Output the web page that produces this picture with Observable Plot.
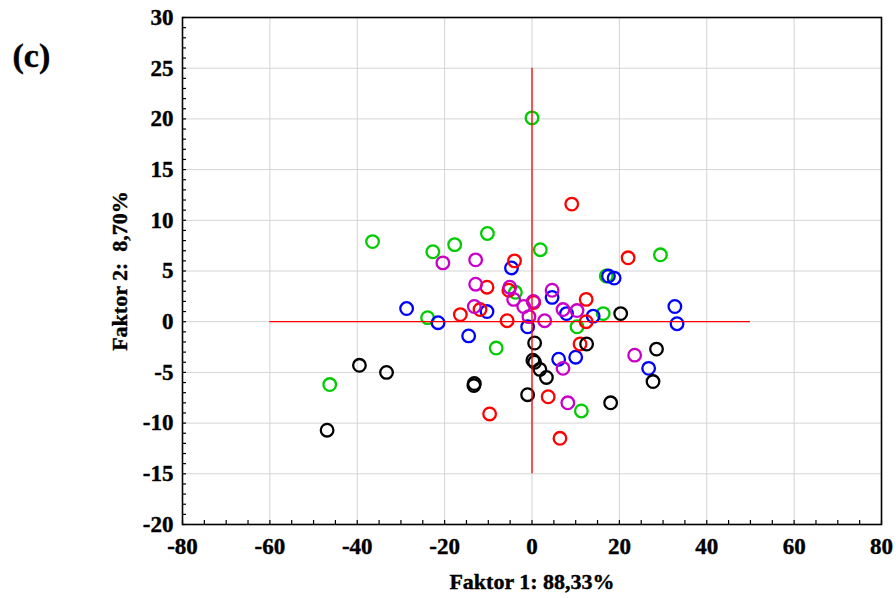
<!DOCTYPE html>
<html>
<head>
<meta charset="utf-8">
<script src="https://cdn.jsdelivr.net/npm/d3@7"></script>
<script src="https://cdn.jsdelivr.net/npm/@observablehq/plot@0.6"></script>
<style>
  html, body { margin: 0; padding: 0; background: #fff; }
  #chart { width: 896px; height: 598px; }
</style>
</head>
<body>
<div id="chart"></div>
<script>
// ---- data ----
const greenPts = [
  [0, 20.1], [-36.5, 7.9], [-22.7, 6.9], [-17.7, 7.6], [-10.2, 8.7], [1.9, 7.1],
  [29.4, 6.6], [-46.3, -6.2], [-23.9, 0.4], [-3.8, 2.9], [16.3, 0.8], [10.3, -0.5],
  [-8.2, -2.6], [11.3, -8.8], [17.0, 4.5]
];
const bluePts = [
  [-28.7, 1.3], [-21.5, -0.1], [-4.7, 5.3], [-10.3, 1.0], [-14.5, -1.4], [4.6, 2.4],
  [-1.0, -0.5], [7.9, 0.8], [14.0, 0.55], [17.5, 4.5], [18.8, 4.3], [6.1, -3.7],
  [10.0, -3.5], [32.7, 1.5], [33.2, -0.2], [26.7, -4.6]
];
const redPts = [
  [9.1, 11.6], [22.0, 6.3], [-4.0, 6.0], [-10.3, 3.4], [-5.3, 3.1], [-11.9, 1.2],
  [-16.4, 0.7], [-5.7, 0.1], [0.4, 1.9], [12.4, 2.2], [12.4, 0.0], [11.0, -2.2],
  [3.7, -7.4], [-9.7, -9.1], [6.4, -11.5]
];
const magentaPts = [
  [-20.4, 5.8], [-12.9, 6.1], [-12.9, 3.7], [-13.2, 1.5], [-5.1, 3.4], [-4.2, 2.2],
  [-1.9, 1.5], [0.3, 2.0], [-0.7, 0.5], [2.9, 0.1], [4.6, 3.1], [7.1, 1.2],
  [10.3, 1.1], [7.1, -4.6], [23.5, -3.3], [8.2, -8.0]
];
const blackPts = [
  [-46.9, -10.7], [-39.5, -4.3], [-33.3, -5.0], [-13.3, -6.3], [-13.2, -6.1], [-1.0, -7.2],
  [0.6, -2.1], [0.2, -3.8], [0.6, -4.0], [1.8, -4.7], [3.3, -5.5], [12.5, -2.2],
  [20.3, 0.8], [28.5, -2.7], [27.7, -5.9], [18.0, -8.0]
];
const groupSeries = [greenPts, bluePts, redPts, magentaPts, blackPts];
const groupColors = ["#00cc00", "#0000ff", "#ff0000", "#c800c8", "#000000"];

const xTicks = [-80, -60, -40, -20, 0, 20, 40, 60, 80];
const yTicks = [-20, -15, -10, -5, 0, 5, 10, 15, 20, 25, 30];
const xMinorTicks = d3.range(-80, 81, 5);
const yMinorTicks = d3.range(-20, 31, 1);
const hLine = {y: 0, x1: -60, x2: 50};
const vLine = {x: 0, y1: -15, y2: 25};
const xLabel = "Faktor 1: 88,33%";
const yLabel = "Faktor 2:  8,70%";
const panelLabel = "(c)";

const font = '"Liberation Serif", "Times New Roman", Times, serif';
const fmt = d => String(d);
const textStyle = {fontWeight: "bold", fontFamily: font, fill: "black", stroke: "black", strokeWidth: 0.4};

const dotMarks = groupSeries.map((arr, gi) =>
  Plot.dot(arr, {x: d => d[0], y: d => d[1], stroke: groupColors[gi], r: 6.3, strokeWidth: 2.3, fill: "none"})
);

const chart = Plot.plot({
  width: 896,
  height: 598,
  marginLeft: 182,
  marginRight: 15,
  marginTop: 17,
  marginBottom: 74,
  style: {fontFamily: font, fontWeight: "bold", fontSize: "22px", background: "white", color: "black"},
  x: {domain: [-80, 80], label: null, axis: null},
  y: {domain: [-20, 30], label: null, axis: null},
  marks: [
    Plot.gridX(xTicks, {stroke: "#d4d4d4", strokeOpacity: 1, strokeWidth: 1}),
    Plot.gridY(yTicks, {stroke: "#d4d4d4", strokeOpacity: 1, strokeWidth: 1}),
    ...dotMarks,
    Plot.ruleY([hLine], {y: "y", x1: "x1", x2: "x2", stroke: "red", strokeWidth: 1.3}),
    Plot.ruleX([vLine], {x: "x", y1: "y1", y2: "y2", stroke: "red", strokeWidth: 1.3}),
    Plot.frame({stroke: "black", strokeWidth: 1.6}),
    Plot.axisX(xMinorTicks, {anchor: "bottom", tickSize: -4, tickFormat: () => "", label: null, strokeWidth: 1.2}),
    Plot.axisY(yMinorTicks, {anchor: "left", tickSize: -4, tickFormat: () => "", label: null, strokeWidth: 1.2}),
    Plot.text(xTicks, {x: d => d, text: fmt, frameAnchor: "bottom", dy: 22, textAnchor: "middle", lineAnchor: "middle", fontSize: 23, ...textStyle}),
    Plot.text(yTicks, {y: d => d, text: fmt, frameAnchor: "left", dx: -9, textAnchor: "end", lineAnchor: "middle", fontSize: 23, ...textStyle}),
    Plot.text([xLabel], {frameAnchor: "bottom", dy: 57, textAnchor: "middle", lineAnchor: "middle", fontSize: 22, ...textStyle}),
    Plot.text([yLabel], {frameAnchor: "left", dx: -63, rotate: -90, textAnchor: "middle", lineAnchor: "middle", fontSize: 22, ...textStyle}),
    Plot.text([panelLabel], {frameAnchor: "top-left", dx: -170, dy: 39, textAnchor: "start", lineAnchor: "middle", fontSize: 34, ...textStyle})
  ]
});
document.getElementById("chart").appendChild(chart);
</script>
</body>
</html>
